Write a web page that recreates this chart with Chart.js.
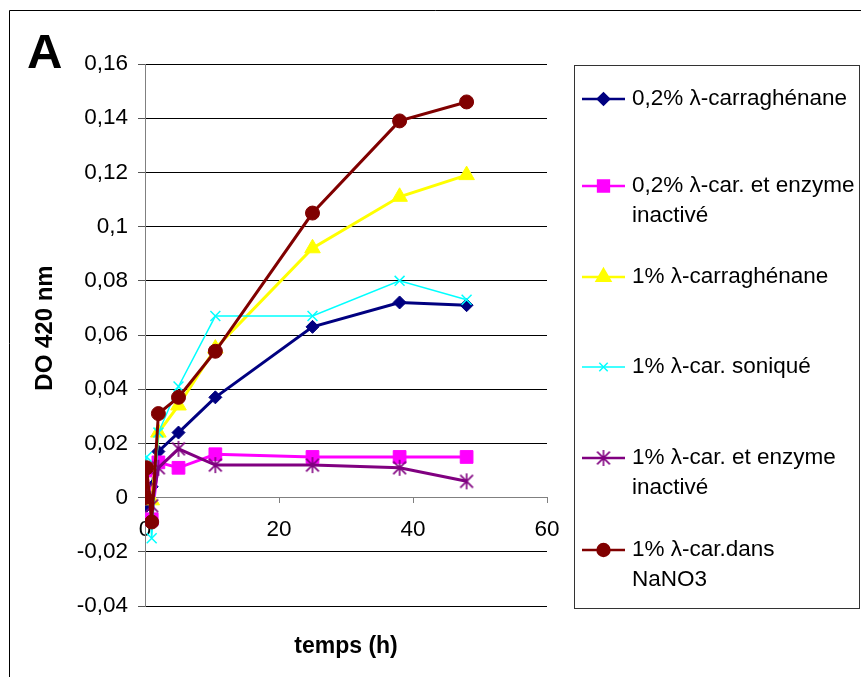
<!DOCTYPE html>
<html>
<head>
<meta charset="utf-8">
<script src="https://cdn.jsdelivr.net/npm/chart.js@4/dist/chart.umd.min.js"></script>
<style>
  html, body { margin: 0; padding: 0; background: #ffffff; }
  canvas { display: block; }
</style>
</head>
<body>
<canvas id="chart" width="861" height="677"></canvas>
<script>
// Sampling times (h)
const times = [0, 0.25, 1, 2, 5, 10.5, 25, 38, 48];

// Absorbance at 420 nm for each condition
const car02      = [0.000, -0.003, 0.004, 0.017, 0.024, 0.037, 0.063, 0.072, 0.071];
const car02Inact = [0.002, 0.010, -0.008, 0.013, 0.011, 0.016, 0.015, 0.015, 0.015];
const car1       = [0.000, 0.001, -0.001, 0.024, 0.034, 0.055, 0.092, 0.111, 0.119];
const car1Sonic  = [0.001, 0.015, -0.015, 0.024, 0.041, 0.067, 0.067, 0.080, 0.073];
const car1Inact  = [0.000, 0.003, -0.003, 0.011, 0.018, 0.012, 0.012, 0.011, 0.006];
const car1NaNO3  = [0.000, 0.011, -0.009, 0.031, 0.037, 0.054, 0.105, 0.139, 0.146];

const seriesNames = [
  ['0,2% λ-carraghénane'],
  ['0,2% λ-car. et enzyme', 'inactivé'],
  ['1% λ-carraghénane'],
  ['1% λ-car. soniqué'],
  ['1% λ-car. et enzyme', 'inactivé'],
  ['1% λ-car.dans', 'NaNO3']
];

const xTicks = [0, 20, 40, 60];

const FONT = '"Liberation Sans", Arial, sans-serif';

// Asterisk marker (X with a vertical bar)
function makeAsterisk(color, size) {
  const c = document.createElement('canvas');
  c.width = size; c.height = size;
  const g = c.getContext('2d');
  g.strokeStyle = color;
  g.lineWidth = 1.6;
  const m = size / 2, r = size / 2 - 1;
  g.beginPath();
  g.moveTo(m - r * 0.8, m - r * 0.8); g.lineTo(m + r * 0.8, m + r * 0.8);
  g.moveTo(m + r * 0.8, m - r * 0.8); g.lineTo(m - r * 0.8, m + r * 0.8);
  g.moveTo(m, m - r); g.lineTo(m, m + r);
  g.stroke();
  return c;
}
const asterisk = makeAsterisk('#800080', 18);

function pts(values) {
  return times.map((t, i) => ({ x: t, y: values[i] }));
}

const styles = [
  { color: '#000080', width: 3,   point: 'rectRot',  radius: 6.5 },
  { color: '#FF00FF', width: 3,   point: 'rect',     radius: 9 },
  { color: '#FFFF00', width: 3,   point: 'triangle', radius: 9 },
  { color: '#00FFFF', width: 1.5, point: 'crossRot', radius: 7 },
  { color: '#800080', width: 3,   point: asterisk,   radius: 9 },
  { color: '#800000', width: 3,   point: 'circle',   radius: 7 }
];
const seriesValues = [car02, car02Inact, car1, car1Sonic, car1Inact, car1NaNO3];

const datasets = seriesValues.map((vals, i) => ({
  label: seriesNames[i].join(' '),
  data: pts(vals),
  borderColor: styles[i].color,
  backgroundColor: styles[i].color,
  borderWidth: styles[i].width,
  pointStyle: styles[i].point,
  pointRadius: styles[i].radius,
  pointHoverRadius: styles[i].radius,
  pointBorderWidth: styles[i].point === 'crossRot' ? 1.5 : 1,
  pointBorderColor: styles[i].color,
  pointBackgroundColor: styles[i].color,
  tension: 0,
  order: 6 - i
}));

const fmt = v => {
  const n = Number(v.toFixed(2));
  return (n === 0 ? '0' : String(n)).replace('.', ',');
};

// Frame, panel letter, axis titles and the boxed legend
const decorations = {
  id: 'decorations',
  afterDraw(chart) {
    const ctx = chart.ctx;
    ctx.save();
    // outer frame
    ctx.strokeStyle = '#000';
    ctx.lineWidth = 1;
    ctx.beginPath();
    ctx.moveTo(9.5, 677);
    ctx.lineTo(9.5, 10.5);
    ctx.lineTo(861, 10.5);
    ctx.stroke();

    ctx.fillStyle = '#000';
    ctx.font = 'bold 49px ' + FONT;
    ctx.textAlign = 'left';
    ctx.textBaseline = 'alphabetic';
    ctx.fillText('A', 27, 68);

    ctx.font = 'bold 23px ' + FONT;
    ctx.textAlign = 'center';
    ctx.textBaseline = 'middle';
    ctx.fillText('temps (h)', 346, 647);

    ctx.save();
    ctx.translate(45, 328);
    ctx.rotate(-Math.PI / 2);
    ctx.font = 'bold 24px ' + FONT;
    ctx.fillText('DO 420 nm', 0, 0);
    ctx.restore();

    // legend box
    const bx = 574.5, by = 65.5, bw = 285, bh = 543;
    ctx.strokeStyle = '#333';
    ctx.lineWidth = 1;
    ctx.strokeRect(bx, by, bw, bh);

    const rows = [99, 186, 277, 367, 458, 550];
    ctx.font = '22.5px ' + FONT;
    ctx.textAlign = 'left';
    ctx.textBaseline = 'middle';
    chart.data.datasets.forEach((ds, i) => {
      const y = rows[i];
      ctx.strokeStyle = ds.borderColor;
      ctx.lineWidth = Math.min(ds.borderWidth, 2.5);
      ctx.beginPath();
      ctx.moveTo(582, y);
      ctx.lineTo(625, y);
      ctx.stroke();
      ctx.fillStyle = ds.borderColor;
      ctx.strokeStyle = ds.borderColor;
      Chart.helpers.drawPoint(ctx, {
        pointStyle: ds.pointStyle,
        radius: ds.pointRadius * 0.85,
        rotation: 0,
        borderWidth: ds.pointBorderWidth
      }, 603.5, y);
      ctx.fillStyle = '#000';
      seriesNames[i].forEach((line, k) => {
        ctx.fillText(line, 632, y + k * 29.5);
      });
    });
    ctx.restore();
  }
};

new Chart(document.getElementById('chart'), {
  type: 'line',
  data: { datasets },
  options: {
    responsive: false,
    animation: false,
    layout: { padding: { left: 0, top: 64, right: 314, bottom: 71 } },
    plugins: { legend: { display: false }, tooltip: { enabled: false } },
    scales: {
      x: {
        type: 'linear',
        position: { y: 0 },
        min: 0, max: 60,
        afterBuildTicks: s => { s.ticks = xTicks.map(v => ({ value: v })); },
        afterFit: s => { s.height = 0; },
        grid: { drawOnChartArea: false, drawTicks: true, tickLength: 5, color: '#808080' },
        border: { color: '#808080', width: 1 },
        ticks: { color: '#000', font: { family: FONT, size: 22.5 }, padding: 14, maxRotation: 0 }
      },
      y: {
        type: 'linear',
        min: -0.04, max: 0.16,
        afterFit: s => { s.width = 145; },
        ticks: { stepSize: 0.02, color: '#000', font: { family: FONT, size: 22.5 }, padding: 10, callback: v => fmt(v) },
        grid: {
          color: ctx => (ctx.tick && Math.abs(ctx.tick.value) < 1e-9) ? 'rgba(0,0,0,0)' : '#000',
          tickColor: '#555',
          tickLength: 7,
          lineWidth: 1
        },
        border: { color: '#808080', width: 1 }
      }
    }
  },
  plugins: [decorations]
});
</script>
</body>
</html>
